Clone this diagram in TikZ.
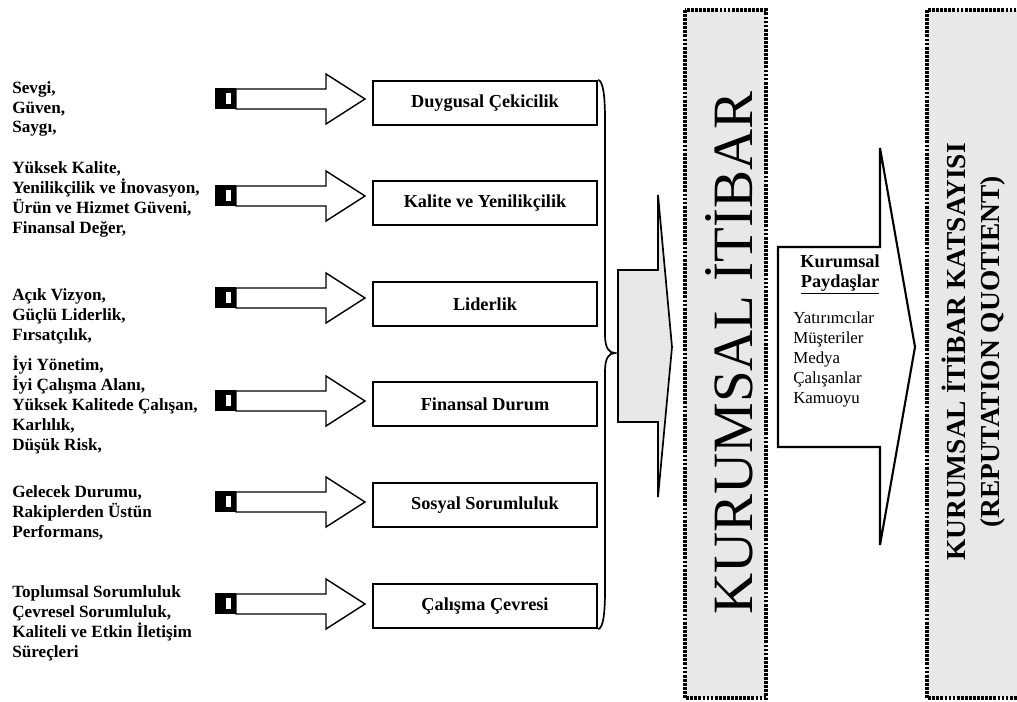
\documentclass[tikz,border=0pt]{standalone}
\usepackage{fontspec}
\setmainfont{Liberation Serif}
\usepackage{xcolor}
\usepackage{tikz}

\definecolor{grisfond}{RGB}{232,232,232}

\tikzset{
  boite/.style={draw, line width=1.6pt, fill=white, minimum width=5.6cm, minimum height=1.1cm, font=\fontsize{13}{15}\selectfont\bfseries},
  liste/.style={anchor=base west, align=left, inner sep=0pt, font=\fontsize{12.2}{14.2}\selectfont\bfseries},
  pointille/.style={line width=2.4pt, dash pattern=on 2pt off 0.9pt, fill=grisfond},
  fleche/.pic={
    \fill[black] (215,-11) rectangle (236,10);
    \fill[white] (226,-6) rectangle (231,5);
    \draw[line width=1pt, fill=white] (236,-10) -- (326,-10) -- (326,-25) -- (365,0) -- (326,25) -- (326,10) -- (236,10) -- cycle;
  }
}

\begin{document}
\begin{tikzpicture}[x=0.025cm, y=-0.025cm]

\useasboundingbox (0,0) rectangle (1017,702);

% Textes de gauche (ancrés sur la dernière ligne)
\node[liste] (t1) at (12,133) {Sevgi,\\Güven,\\Saygı,};
\node[liste] (t2) at (12,233) {Yüksek Kalite,\\Yenilikçilik ve İnovasyon,\\Ürün ve Hizmet Güveni,\\Finansal Değer,};
\node[liste] (t3) at (12,340) {Açık Vizyon,\\Güçlü Liderlik,\\Fırsatçılık,};
\node[liste] (t4) at (12,450) {İyi Yönetim,\\İyi Çalışma Alanı,\\Yüksek Kalitede Çalışan,\\Karlılık,\\Düşük Risk,};
\node[liste] (t5) at (12,537) {Gelecek Durumu,\\Rakiplerden Üstün\\Performans,};
\node[liste] (t6) at (12,657) {Toplumsal Sorumluluk\\Çevresel Sorumluluk,\\Kaliteli ve Etkin İletişim\\Süreçleri};

% Flèches
\pic at (0,99) {fleche};
\pic at (0,196) {fleche};
\pic at (0,298) {fleche};
\pic at (0,401) {fleche};
\pic at (0,502) {fleche};
\pic at (0,604) {fleche};

% Boîtes
\node[boite] (duygu) at (485,103) {Duygusal Çekicilik};
\node[boite] (kalite) at (485,203) {Kalite ve Yenilikçilik};
\node[boite] (lider) at (485,304) {Liderlik};
\node[boite] (finans) at (485,404) {Finansal Durum};
\node[boite] (sosyal) at (485,505) {Sosyal Sorumluluk};
\node[boite] (calisma) at (485,606) {Çalışma Çevresi};

% Accolade
\coordinate (pointe) at (615,353);
\draw[line width=1.2pt] (duygu.north east) .. controls (603,81) and (605,95) .. (605,120) -- (605,335) .. controls (605,348) and (609,353) .. (pointe) .. controls (609,353) and (605,358) .. (605,371) -- (605,590) .. controls (605,615) and (603,628) .. (calisma.south east);

% Grosse flèche grise
\draw[line width=1.2pt, fill=grisfond] (618,270) -- (658,270) -- (658,195) -- (672,347) -- (658,497) -- (658,422) -- (618,422) -- cycle;

% Kurumsal itibar
\draw[pointille] (685,10) rectangle (766,698);
\node[rotate=90, anchor=base, font=\fontsize{40.5}{44}\selectfont] (itibar) at (752,353) {KURUMSAL İTİBAR};

% Paydaşlar
\draw[line width=1.5pt, fill=white] (778,247) -- (880,247) -- (880,148) -- (915,347) -- (880,545) -- (880,447) -- (778,447) -- cycle;
\node[anchor=base, align=center, inner sep=0pt, font=\fontsize{13}{14.2}\selectfont\bfseries] (paydas) at (840,287) {Kurumsal\\\underline{Paydaşlar}};
\node[liste, font=\fontsize{12}{14.2}\selectfont] (gruplar) at (793,403) {Yatırımcılar\\Müşteriler\\Medya\\Çalışanlar\\Kamuoyu};

% Katsayı
\draw[pointille] (927,10) rectangle (1030,698);
\node[rotate=90, anchor=base, align=center, font=\fontsize{19.5}{23.5}\selectfont\bfseries] (katsayi) at (999,352) {KURUMSAL İTİBAR KATSAYISI\\(REPUTATION QUOTIENT)};

\end{tikzpicture}
\end{document}
